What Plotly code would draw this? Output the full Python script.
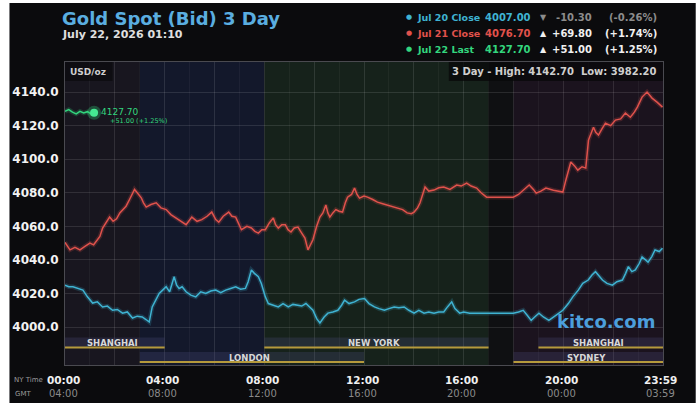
import plotly.graph_objects as go

# ---------------- data ----------------
red_h = [0.0, 0.2, 0.4, 0.6, 0.8, 1.0, 1.15, 1.27, 1.4, 1.51, 1.65, 1.79, 1.93, 2.07, 2.2, 2.31, 2.45, 2.59, 2.7, 2.79,
         2.9, 3.06, 3.15, 3.26, 3.45, 3.66, 3.85, 4.06, 4.25, 4.46, 4.65, 4.86, 5.09, 5.3, 5.49, 5.7, 5.89, 6.05, 6.17,
         6.35, 6.57, 6.7, 6.85, 7.0, 7.08, 7.3, 7.48, 7.62, 7.76, 7.9, 8.04, 8.2, 8.36, 8.45, 8.56, 8.7, 8.84, 8.95,
         9.07, 9.2, 9.35, 9.5, 9.63, 9.75, 9.85, 9.95, 10.1, 10.23, 10.35, 10.47, 10.55, 10.63, 10.75, 10.87, 11.0,
         11.14, 11.25, 11.34, 11.5, 11.62, 11.72, 11.82, 12.0, 12.14, 12.35, 12.54, 12.75, 12.94, 13.15, 13.33, 13.55,
         13.73, 13.9, 14.01, 14.15, 14.25, 14.35, 14.45, 14.6, 14.81, 15.0, 15.2, 15.45, 15.72, 15.9, 16.12, 16.3,
         16.52, 16.7, 16.92, 17.3, 17.7, 17.99, 18.2, 18.39, 18.63, 18.8, 18.91, 19.1, 19.3, 19.6, 19.98, 20.1, 20.3,
         20.45, 20.58, 20.75, 20.9, 21.01, 21.21, 21.3, 21.41, 21.55, 21.69, 21.9, 22.09, 22.3, 22.49, 22.69, 22.85,
         22.97, 23.16, 23.36, 23.56, 23.76, 23.98]
red_v = [4050.5, 4046, 4047.5, 4046, 4048, 4050, 4049, 4051.5, 4054, 4059, 4062, 4065.5, 4063, 4064.5, 4068, 4070,
         4072, 4076, 4079, 4082, 4080, 4077, 4074, 4071.5, 4073, 4074, 4071, 4070, 4067, 4065, 4063, 4061, 4065.5,
         4063, 4064, 4066, 4068.5, 4064, 4062.5, 4066, 4068.5, 4066, 4065.5, 4061, 4058, 4060, 4059, 4057, 4056,
         4058, 4058, 4062, 4065, 4061, 4059, 4061, 4061, 4058, 4056.6, 4059, 4059.6, 4056, 4053, 4046, 4049, 4052,
         4060, 4065.5, 4068, 4072.7, 4068, 4065.5, 4068, 4070, 4069, 4068.5, 4074, 4077.4, 4079, 4082.8, 4079,
         4076.8, 4078, 4077.4, 4076, 4074.4, 4073.5, 4072.7, 4072, 4071, 4070, 4068, 4067.5, 4068.5, 4071, 4074,
         4079, 4083.4, 4081, 4081.6, 4083, 4083.4, 4082, 4084.6, 4084, 4085.8, 4084, 4082.8, 4080, 4077.4, 4077.4,
         4077.4, 4077.4, 4079, 4081.6, 4084.6, 4082, 4079.8, 4081, 4082.8, 4081.5, 4080.4, 4087.5, 4098.3, 4096,
         4093.5, 4095.5, 4094.7, 4111.4, 4119, 4116, 4114.4, 4118, 4121.5, 4120, 4123.3, 4124, 4127.5, 4125, 4128,
         4131, 4137, 4140, 4136.4, 4134, 4131]

blue_h = [0, 0.15, 0.32, 0.5, 0.72, 0.9, 1.11, 1.3, 1.51, 1.7, 1.91, 2.1, 2.31, 2.5, 2.71, 2.9, 3.1, 3.25, 3.38, 3.5,
          3.65, 3.78, 3.92, 4.06, 4.2, 4.3, 4.38, 4.48, 4.58, 4.7, 4.86, 5.05, 5.25, 5.45, 5.65, 5.85, 6.05, 6.25,
          6.45, 6.65, 6.85, 7.05, 7.24, 7.35, 7.48, 7.6, 7.76, 7.88, 7.96, 8.04, 8.16, 8.35, 8.56, 8.75, 8.96, 9.15,
          9.35, 9.5, 9.67, 9.8, 9.95, 10.1, 10.23, 10.4, 10.55, 10.75, 10.95, 11.1, 11.22, 11.4, 11.62, 11.8, 12.02,
          12.2, 12.42, 12.6, 12.82, 13.0, 13.21, 13.4, 13.61, 13.8, 14.01, 14.2, 14.41, 14.6, 14.81, 15.0, 15.2,
          15.35, 15.52, 15.65, 15.84, 16.0, 16.24, 16.6, 17.03, 17.5, 17.99, 18.2, 18.39, 18.55, 18.71, 18.85, 19.02,
          19.2, 19.42, 19.7, 19.98, 20.2, 20.38, 20.6, 20.78, 21.0, 21.15, 21.29, 21.45, 21.57, 21.75, 21.97, 22.15,
          22.37, 22.5, 22.61, 22.75, 22.89, 23.05, 23.16, 23.3, 23.4, 23.55, 23.68, 23.85, 23.98]
blue_v = [4025, 4024, 4024, 4023, 4022, 4018, 4014.3, 4015, 4012, 4012.5, 4010, 4010.5, 4008.3, 4009, 4005.4, 4006.5,
          4006, 4004.5, 4003, 4012, 4016, 4020, 4022, 4024, 4021, 4026, 4030, 4025, 4023, 4024, 4021, 4019, 4018,
          4021, 4020, 4021.5, 4022, 4020.5, 4022, 4023, 4024, 4022.5, 4023, 4027, 4034, 4032, 4030, 4026, 4022, 4018,
          4014, 4013, 4012, 4014, 4012, 4013.5, 4013, 4012.5, 4014, 4012, 4010, 4005, 4002.4, 4006, 4008.3, 4009,
          4010, 4013, 4016, 4014, 4015, 4016.5, 4017, 4014, 4012, 4011, 4010, 4011, 4012, 4011.5, 4012, 4010, 4008.3,
          4010, 4008.3, 4009, 4008.3, 4009, 4009, 4012, 4015, 4011, 4008.3, 4009, 4008.3, 4008.3, 4008.3, 4008.3,
          4008.3, 4009, 4010, 4007, 4004, 4006, 4008.3, 4006, 4004, 4007, 4010, 4014, 4018, 4022, 4026, 4028, 4031,
          4033, 4030, 4028, 4026, 4025, 4027, 4028, 4032, 4036, 4033, 4034, 4038, 4041.7, 4040, 4038.7, 4042, 4045.9,
          4045, 4047]

green_h = [0.0, 0.15, 0.3, 0.45, 0.6, 0.75, 0.9, 1.05, 1.167]
green_v = [4128.5, 4129.5, 4128, 4127, 4128.5, 4127.5, 4128.3, 4127, 4127.7]

legend_labels = ["Jul 20 Close", "Jul 21 Close", "Jul 22 Last"]
legend_prices = [4007.00, 4076.70, 4127.70]
legend_changes = [-10.30, 69.80, 51.00]
legend_pcts = [-0.26, 1.74, 1.25]
series_colors = ["#3fb3d2", "#e0524c", "#33d67e"]

y_ticks = [4000, 4020, 4040, 4060, 4080, 4100, 4120, 4140]
x_tick_pos = [0, 4, 8, 12, 16, 20, 23.983]
x_ny_labels = ["00:00", "04:00", "08:00", "12:00", "16:00", "20:00", "23:59"]
x_gmt_labels = ["04:00", "08:00", "12:00", "16:00", "20:00", "00:00", "03:59"]

bg_starts = [0, 3, 8, 17, 18]
bg_ends = [3, 8, 17, 18, 24]
bg_colors = ["#18161f", "#13182b", "#16221b", "#0f1012", "#1b131e"]

sessions = ["SHANGHAI", "LONDON", "NEW YORK", "SHANGHAI", "SYDNEY"]
session_start = [0, 3, 8, 19, 18]
session_end = [4, 12, 17, 24, 24]
session_row = [0, 1, 0, 0, 1]

high_3d, low_3d = 4142.70, 3982.20

# ---------------- layout helpers ----------------
W, H = 700, 407
PL, PR, PT, PB = 60, 663, 62, 365


def px(x):
    return (x - PL) / (PR - PL)


def py(y):
    return (PB - y) / (PB - PT)


FONT = "DejaVu Sans"
LSH, RSH, CSH = -5, 2, -2   # empirical text offsets for left/right/center anchored texts
fig = go.Figure()

shapes = []
shapes.append(dict(type="rect", xref="paper", yref="paper", x0=px(4), x1=px(696), y0=py(403), y1=py(3),
                   fillcolor="#0b0b0d", line_width=0, layer="below"))
for s, e, c in zip(bg_starts, bg_ends, bg_colors):
    shapes.append(dict(type="rect", xref="x", yref="paper", x0=s, x1=e, y0=0, y1=1,
                       fillcolor=c, line_width=0, layer="below"))
row_line = [py(347.5), py(362)]
row_lab = [py(342.5), py(357.5)]
for name, s, e, r in zip(sessions, session_start, session_end, session_row):
    shapes.append(dict(type="rect", xref="x", yref="paper", x0=s, x1=e, y0=row_line[r], y1=row_line[r] + 10 / 303,
                       fillcolor="rgba(80,80,130,0.25)", line_width=0, layer="above"))
    shapes.append(dict(type="line", xref="x", yref="paper", x0=s, x1=e, y0=row_line[r], y1=row_line[r],
                       line=dict(color="#b59a3c", width=2.2), layer="above"))
    fig.add_annotation(x=(s + e) / 2, y=row_lab[r], xref="x", yref="paper", text="<b>%s</b>" % name,
                       showarrow=False, font=dict(family=FONT, size=8.5, color="#d8d8d8"),
                       xanchor="center", yanchor="middle", xshift=CSH)
shapes.append(dict(type="rect", xref="paper", yref="paper", x0=px(447), x1=px(663), y0=py(81), y1=py(62),
                   fillcolor="rgba(8,8,10,0.75)", line_width=0, layer="above"))
shapes.append(dict(type="rect", xref="paper", yref="paper", x0=px(60), x1=px(108), y0=py(81), y1=py(62),
                   fillcolor="rgba(8,8,10,0.6)", line_width=0, layer="above"))
fig.update_layout(shapes=shapes)

# ---------------- traces ----------------
for hx, vy, col in [(red_h, red_v, series_colors[1]), (blue_h, blue_v, series_colors[0]),
                    (green_h, green_v, series_colors[2])]:
    fig.add_trace(go.Scatter(x=hx, y=vy, mode="lines", line=dict(color=col, width=4.5), opacity=0.2,
                             hoverinfo="skip", showlegend=False))
    fig.add_trace(go.Scatter(x=hx, y=vy, mode="lines", line=dict(color=col, width=1.5),
                             showlegend=False))

fig.add_trace(go.Scatter(x=[green_h[-1]], y=[legend_prices[2]], mode="markers",
                         marker=dict(size=14, color=series_colors[2], opacity=0.3), showlegend=False))
fig.add_trace(go.Scatter(x=[green_h[-1]], y=[legend_prices[2]], mode="markers",
                         marker=dict(size=8, color="#45e892"), showlegend=False))
fig.add_annotation(x=green_h[-1], y=legend_prices[2], xref="x", yref="y", text="%.2f" % legend_prices[2],
                   showarrow=False, xanchor="left", yanchor="middle", xshift=10 + LSH, yshift=1,
                   font=dict(family=FONT, size=9, color=series_colors[2]))
fig.add_annotation(x=green_h[-1], y=legend_prices[2], xref="x", yref="y",
                   text="%+.2f (%+.2f%%)" % (legend_changes[2], legend_pcts[2]),
                   showarrow=False, xanchor="left", yanchor="middle", xshift=19 + LSH, yshift=-8,
                   font=dict(family=FONT, size=6.5, color=series_colors[2]))

# ---------------- axes ----------------
fig.update_xaxes(range=[0, 24], showgrid=True, gridcolor="rgba(255,255,255,0.11)", gridwidth=1,
                 tick0=0, dtick=2, showticklabels=False, zeroline=False,
                 minor=dict(showgrid=True, dtick=1, gridcolor="rgba(255,255,255,0.045)"),
                 showline=True, linecolor="#4a4a50", linewidth=1, mirror=True)
fig.update_yaxes(range=[3977.4, 4157.9], tickvals=y_ticks, ticktext=["%.1f" % v for v in y_ticks],
                 showgrid=True, gridcolor="rgba(255,255,255,0.11)", zeroline=False,
                 tickfont=dict(family=FONT, size=12, color="#f2f2f2", weight="bold"),
                 ticklabelstandoff=3,
                 showline=True, linecolor="#4a4a50", linewidth=1, mirror=True)

fig.add_annotation(x=px(12), y=py(380), xref="paper", yref="paper", text="NY Time", showarrow=False,
                   xanchor="left", yanchor="middle", xshift=LSH, font=dict(family=FONT, size=7, color="#9a9a9a"))
fig.add_annotation(x=px(13), y=py(393.5), xref="paper", yref="paper", text="GMT", showarrow=False,
                   xanchor="left", yanchor="middle", xshift=LSH, font=dict(family=FONT, size=7, color="#9a9a9a"))
for xp, a, b in zip(x_tick_pos, x_ny_labels, x_gmt_labels):
    fig.add_annotation(x=xp, y=py(380), xref="x", yref="paper", text="<b>%s</b>" % a, showarrow=False,
                       xanchor="center", yanchor="middle", xshift=CSH,
                       font=dict(family=FONT, size=10.5, color="#f0f0f0"))
    fig.add_annotation(x=xp, y=py(393.5), xref="x", yref="paper", text=b, showarrow=False,
                       xanchor="center", yanchor="middle", xshift=CSH,
                       font=dict(family=FONT, size=10, color="#8a8a8a"))

# ---------------- titles / legend ----------------
fig.add_annotation(x=px(60), y=py(18), xref="paper", yref="paper", text="<b>Gold Spot (Bid) 3 Day</b>",
                   showarrow=False, xanchor="left", yanchor="middle", xshift=LSH,
                   font=dict(family=FONT, size=18, color="#5aaee0"))
fig.add_annotation(x=px(60), y=py(35), xref="paper", yref="paper", text="<b>July 22, 2026 01:10</b>",
                   showarrow=False, xanchor="left", yanchor="middle", xshift=LSH,
                   font=dict(family=FONT, size=11, color="#e0e0e0"))

row_y = [17, 33, 49]
for i in range(3):
    col = series_colors[i]
    yy = py(row_y[i])
    fig.add_annotation(x=px(407), y=yy, xref="paper", yref="paper", text="●", showarrow=False,
                       xanchor="center", yanchor="middle", font=dict(family=FONT, size=7, color=col))
    fig.add_annotation(x=px(418), y=yy, xref="paper", yref="paper", text="<b>%s</b>" % legend_labels[i],
                       showarrow=False, xanchor="left", yanchor="middle", xshift=LSH,
                       font=dict(family=FONT, size=9.5, color=col))
    fig.add_annotation(x=px(487), y=yy, xref="paper", yref="paper", text="<b>%.2f</b>" % legend_prices[i],
                       showarrow=False, xanchor="left", yanchor="middle", xshift=LSH,
                       font=dict(family=FONT, size=10, color=col))
    neg = legend_changes[i] < 0
    tc = "#8c8c8c" if neg else "#f0f0f0"
    fig.add_annotation(x=px(543), y=yy, xref="paper", yref="paper", text="▼" if neg else "▲",
                       showarrow=False, xanchor="center", yanchor="middle",
                       font=dict(family=FONT, size=8, color=tc))
    fig.add_annotation(x=px(591), y=yy, xref="paper", yref="paper", text="<b>%+.2f</b>" % legend_changes[i],
                       showarrow=False, xanchor="right", yanchor="middle", xshift=RSH,
                       font=dict(family=FONT, size=10, color=tc))
    fig.add_annotation(x=px(657), y=yy, xref="paper", yref="paper", text="<b>(%+.2f%%)</b>" % legend_pcts[i],
                       showarrow=False, xanchor="right", yanchor="middle", xshift=RSH,
                       font=dict(family=FONT, size=10, color=tc))

fig.add_annotation(x=px(656), y=py(72), xref="paper", yref="paper",
                   text="<b>3 Day - High: %.2f  Low: %.2f</b>" % (high_3d, low_3d),
                   showarrow=False, xanchor="right", yanchor="middle", xshift=RSH,
                   font=dict(family=FONT, size=10, color="#cfcfcf"))
fig.add_annotation(x=px(68), y=py(72), xref="paper", yref="paper", text="<b>USD/oz</b>",
                   showarrow=False, xanchor="left", yanchor="middle", xshift=LSH,
                   font=dict(family=FONT, size=9, color="#cfcfcf"))
fig.add_annotation(x=px(655), y=py(321), xref="paper", yref="paper", text="<b>kitco.com</b>",
                   showarrow=False, xanchor="right", yanchor="middle", xshift=RSH,
                   font=dict(family=FONT, size=18, color="#4c9fdc"))

fig.update_layout(width=W, height=H, margin=dict(l=PL, r=W - PR, t=PT, b=H - PB),
                  paper_bgcolor="#ffffff", plot_bgcolor="rgba(0,0,0,0)", showlegend=False,
                  font=dict(family=FONT))

fig.write_html("out.html")
